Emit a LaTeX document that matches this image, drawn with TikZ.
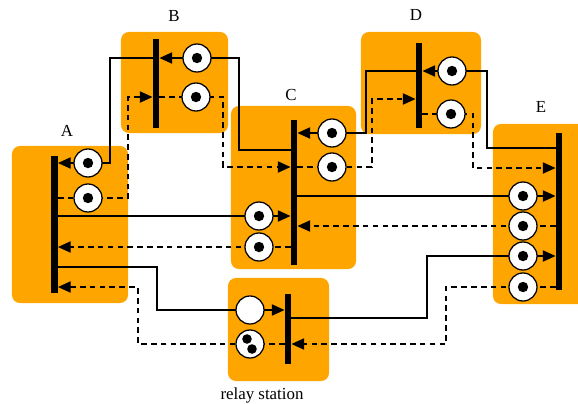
\documentclass[tikz,border=0pt]{standalone}
\usepackage{fontspec}
\setmainfont{Liberation Serif}
\usetikzlibrary{arrows.meta, positioning, backgrounds}
\definecolor{panelorange}{HTML}{FFA500}
\tikzset{
    panel/.style={
        rectangle,
        rounded corners=0.2cm,
        fill=panelorange,
        inner sep=0
    },
    bar/.style={
        rectangle,
        fill=black,
        minimum width=0.16cm,
        inner sep=0
    },
    buffer/.style={
        circle,
        draw=black,
        line width=0.9pt,
        fill=white,
        minimum size=0.7cm,
        inner sep=0
    },
    token/.style={
        buffer,
        path picture={\fill[black] (path picture bounding box.center) circle (0.13cm);}
    },
    twotoken/.style={
        buffer,
        path picture={
            \fill[black] ([shift={(-0.075cm,0.125cm)}]path picture bounding box.center) circle (0.12cm);
            \fill[black] ([shift={(0.05cm,-0.125cm)}]path picture bounding box.center) circle (0.12cm);
        }
    },
    fwd/.style={
        line width=0.9pt,
        -{Triangle[length=9pt,width=8pt]}
    },
    ack/.style={
        fwd,
        dash pattern=on 4pt off 3pt
    }
}

\begin{document}
\begin{tikzpicture}[
    x=0.025cm, y=-0.025cm,
    boxlabel/.style={font=\fontsize{12}{14}\selectfont}
]
\useasboundingbox (0,0) rectangle (578,403);
% bars
\node[bar, minimum height=3.425cm] (barA) at (54.5,224.5) {};
\node[bar, minimum height=2.225cm] (barB) at (156,83.5) {};
\node[bar, minimum height=3.625cm] (barC) at (294,192.5) {};
\node[bar, minimum height=2.125cm] (barD) at (419,85.5) {};
\node[bar, minimum height=3.925cm] (barE) at (559,211.5) {};
\node[bar, minimum height=1.75cm] (barR) at (288,329) {};
% buffers, solid links
\node[token] (bufBA) at (88,163) {};
\node[token] (bufCB) at (197,58) {};
\node[token] (bufDC) at (332,133) {};
\node[token] (bufED) at (452,71) {};
\node[token] (bufAC) at (259,216) {};
\node[token] (bufCE) at (523,196) {};
\node[buffer] (bufAR) at (250,310) {};
\node[token] (bufRE) at (523,256) {};
% buffers, dashed links
\node[token] (ackAB) at (88,198) {};
\node[token] (ackBC) at (196,97) {};
\node[token] (ackCD) at (332,167) {};
\node[token] (ackDE) at (451,114) {};
\node[token] (ackCA) at (259,247) {};
\node[token] (ackEC) at (523,226) {};
\node[twotoken] (ackRA) at (250,344) {};
\node[token] (ackER) at (523,287) {};
% labels
\node[boxlabel] (lblA) at (67,131) {A};
\node[boxlabel] (lblB) at (174,16) {B};
\node[boxlabel] (lblC) at (291,95) {C};
\node[boxlabel] (lblD) at (416,15) {D};
\node[boxlabel] (lblE) at (541,107) {E};
\node[boxlabel] (lblR) at (262,395) {relay station};
\begin{scope}[on background layer]
\node[panel, minimum width=2.9cm, minimum height=3.925cm] (boxA) at (70,224.5) {};
\node[panel, minimum width=2.675cm, minimum height=2.525cm] (boxB) at (174.5,82.5) {};
\node[panel, minimum width=3.125cm, minimum height=4.075cm] (boxC) at (293.5,187.5) {};
\node[panel, minimum width=3cm, minimum height=2.55cm] (boxD) at (421,83) {};
\node[panel, minimum width=2.5cm, minimum height=4.5cm] (boxE) at (543,214) {};
\node[panel, minimum width=2.525cm, minimum height=2.575cm] (boxR) at (278.5,329.5) {};
% solid links
\draw[fwd] (barB.west |- bufCB) -| (110,163) -- (barA.east |- bufBA);
\draw[fwd] (barC.west |- 0,150) -| (239,58) -- (barB.east |- bufCB);
\draw[fwd] (barD.west |- bufED) -| (366,133) -- (barC.east |- bufDC);
\draw[fwd] (barE.west |- 0,148) -| (487,71) -- (barD.east |- bufED);
\draw[fwd] (barA.east |- bufAC) -- (barC.west |- bufAC);
\draw[fwd] (barC.east |- bufCE) -- (barE.west |- bufCE);
\draw[fwd] (barA.east |- 0,267) -| (157,310) -- (barR.west |- bufAR);
\draw[fwd] (barR.east |- 0,318) -| (427,256) -- (barE.west |- bufRE);
% dashed links
\draw[ack] (barA.east |- ackAB) -| (128,97) -- (barB.west |- ackBC);
\draw[ack] (barB.east |- ackBC) -| (223,167) -- (barC.west |- ackCD);
\draw[ack] (barC.east |- ackCD) -| (372,99) -- (barD.west |- 0,99);
\draw[ack] (barD.east |- ackDE) -| (473,168) -- (barE.west |- 0,168);
\draw[ack] (barC.west |- ackCA) -- (barA.east |- ackCA);
\draw[ack] (barE.west |- ackEC) -- (barC.east |- ackEC);
\draw[ack] (barR.west |- ackRA) -| (138,287) -- (barA.east |- 0,287);
\draw[ack] (barE.west |- ackER) -| (446,344) -- (barR.east |- ackRA);
\end{scope}
\end{tikzpicture}
\end{document}
